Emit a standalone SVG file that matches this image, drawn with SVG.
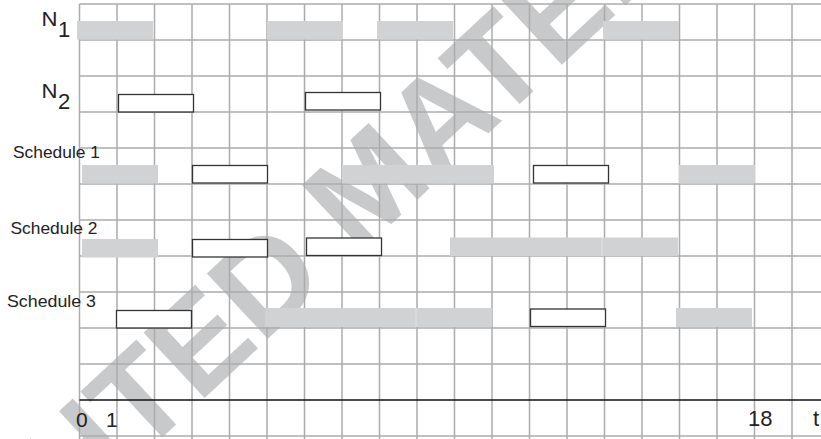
<svg xmlns="http://www.w3.org/2000/svg" width="821" height="439" viewBox="0 0 821 439">
<style>
.wm{font-family:"Liberation Sans",Arial,sans-serif;font-weight:bold;font-size:130px;fill:#c8c9ca}
.grid line{stroke:#ababab;stroke-width:1.5}
.busy{fill:#d1d2d4}
.box{fill:#fff;stroke:#333;stroke-width:1.3}
.sep{stroke:#e2e3e4;stroke-width:1}
.lbl{font-family:"Liberation Sans",Arial,sans-serif;fill:#222}
</style>
<rect width="821" height="439" fill="#fff"/>
<text class="wm" transform="translate(-367,931) rotate(-43)">COPYRIGHTED MATERIAL</text>
<g class="grid" id="grid">
<line x1="79.5" y1="4" x2="79.5" y2="439"/><line x1="117" y1="4" x2="117" y2="439"/><line x1="154.5" y1="4" x2="154.5" y2="439"/><line x1="192" y1="4" x2="192" y2="439"/><line x1="229.5" y1="4" x2="229.5" y2="439"/><line x1="267" y1="4" x2="267" y2="439"/><line x1="304.5" y1="4" x2="304.5" y2="439"/><line x1="342" y1="4" x2="342" y2="439"/><line x1="379.5" y1="4" x2="379.5" y2="439"/><line x1="417" y1="4" x2="417" y2="439"/><line x1="454.5" y1="4" x2="454.5" y2="439"/><line x1="492" y1="4" x2="492" y2="439"/><line x1="529.5" y1="4" x2="529.5" y2="439"/><line x1="567" y1="4" x2="567" y2="439"/><line x1="604.5" y1="4" x2="604.5" y2="439"/><line x1="642" y1="4" x2="642" y2="439"/><line x1="679.5" y1="4" x2="679.5" y2="439"/><line x1="717" y1="4" x2="717" y2="439"/><line x1="754.5" y1="4" x2="754.5" y2="439"/><line x1="792" y1="4" x2="792" y2="439"/>
<line x1="79.5" y1="4" x2="821" y2="4"/><line x1="79.5" y1="40" x2="821" y2="40"/><line x1="79.5" y1="76" x2="821" y2="76"/><line x1="79.5" y1="112" x2="821" y2="112"/><line x1="79.5" y1="148" x2="821" y2="148"/><line x1="79.5" y1="184" x2="821" y2="184"/><line x1="79.5" y1="220" x2="821" y2="220"/><line x1="79.5" y1="256" x2="821" y2="256"/><line x1="79.5" y1="292" x2="821" y2="292"/><line x1="79.5" y1="328" x2="821" y2="328"/><line x1="79.5" y1="364" x2="821" y2="364"/><line x1="79.5" y1="436" x2="821" y2="436"/>
</g>
<g id="connectors">
<line x1="79.5" y1="400" x2="821" y2="400" stroke="#111" stroke-width="1.3"/>
</g>
<g id="row-n1">
<rect class="busy" x="77" y="21" width="76" height="18.5"/>
<rect class="busy" x="267" y="21" width="76" height="18.5"/>
<rect class="busy" x="377" y="21" width="76" height="18.5"/>
<rect class="busy" x="603" y="21" width="76" height="18.5"/>
</g>
<g id="row-n2">
<rect class="box" x="118.5" y="94.5" width="75" height="17.5"/>
<rect class="box" x="305.5" y="92.5" width="75" height="17.5"/>
</g>
<g id="schedule-1">
<rect class="busy" x="82" y="165" width="76" height="18.5"/>
<rect class="box" x="192.5" y="165.5" width="75" height="17.5"/>
<rect class="busy" x="342" y="165" width="152" height="18.5"/>
<rect class="box" x="533.5" y="165.5" width="75" height="17.5"/>
<rect class="busy" x="679" y="165" width="76" height="18.5"/>
</g>
<g id="schedule-2">
<rect class="busy" x="82" y="239" width="76" height="18.5"/>
<rect class="box" x="192.5" y="239.5" width="75" height="17.5"/>
<rect class="box" x="306.5" y="238" width="75" height="17.5"/>
<rect class="busy" x="450" y="237.5" width="228" height="18.5"/>
<line class="sep" x1="602" y1="237.5" x2="602" y2="256"/>
</g>
<g id="schedule-3">
<rect class="box" x="116.5" y="310.5" width="75" height="17.5"/>
<rect class="busy" x="265" y="308" width="227" height="19"/>
<line class="sep" x1="416" y1="308" x2="416" y2="327"/>
<rect class="box" x="530.5" y="309" width="75" height="17.5"/>
<rect class="busy" x="676" y="308" width="76" height="19"/>
</g>
<g id="labels" class="lbl">
<text x="41.5" y="26" font-size="21" textLength="16" lengthAdjust="spacingAndGlyphs">N</text><text x="58" y="36.5" font-size="22">1</text>
<text x="41.5" y="98" font-size="21" textLength="16" lengthAdjust="spacingAndGlyphs">N</text><text x="58" y="109" font-size="22">2</text>
<text x="13" y="158" font-size="17" textLength="87" lengthAdjust="spacingAndGlyphs">Schedule 1</text>
<text x="10.5" y="234" font-size="17" textLength="87" lengthAdjust="spacingAndGlyphs">Schedule 2</text>
<text x="7" y="307" font-size="17" textLength="89" lengthAdjust="spacingAndGlyphs">Schedule 3</text>
<text x="76" y="427" font-size="21">0</text>
<text x="106" y="427" font-size="21">1</text>
<text x="748" y="426" font-size="22">18</text>
<text x="813" y="426" font-size="22">t</text>
</g>
</svg>
